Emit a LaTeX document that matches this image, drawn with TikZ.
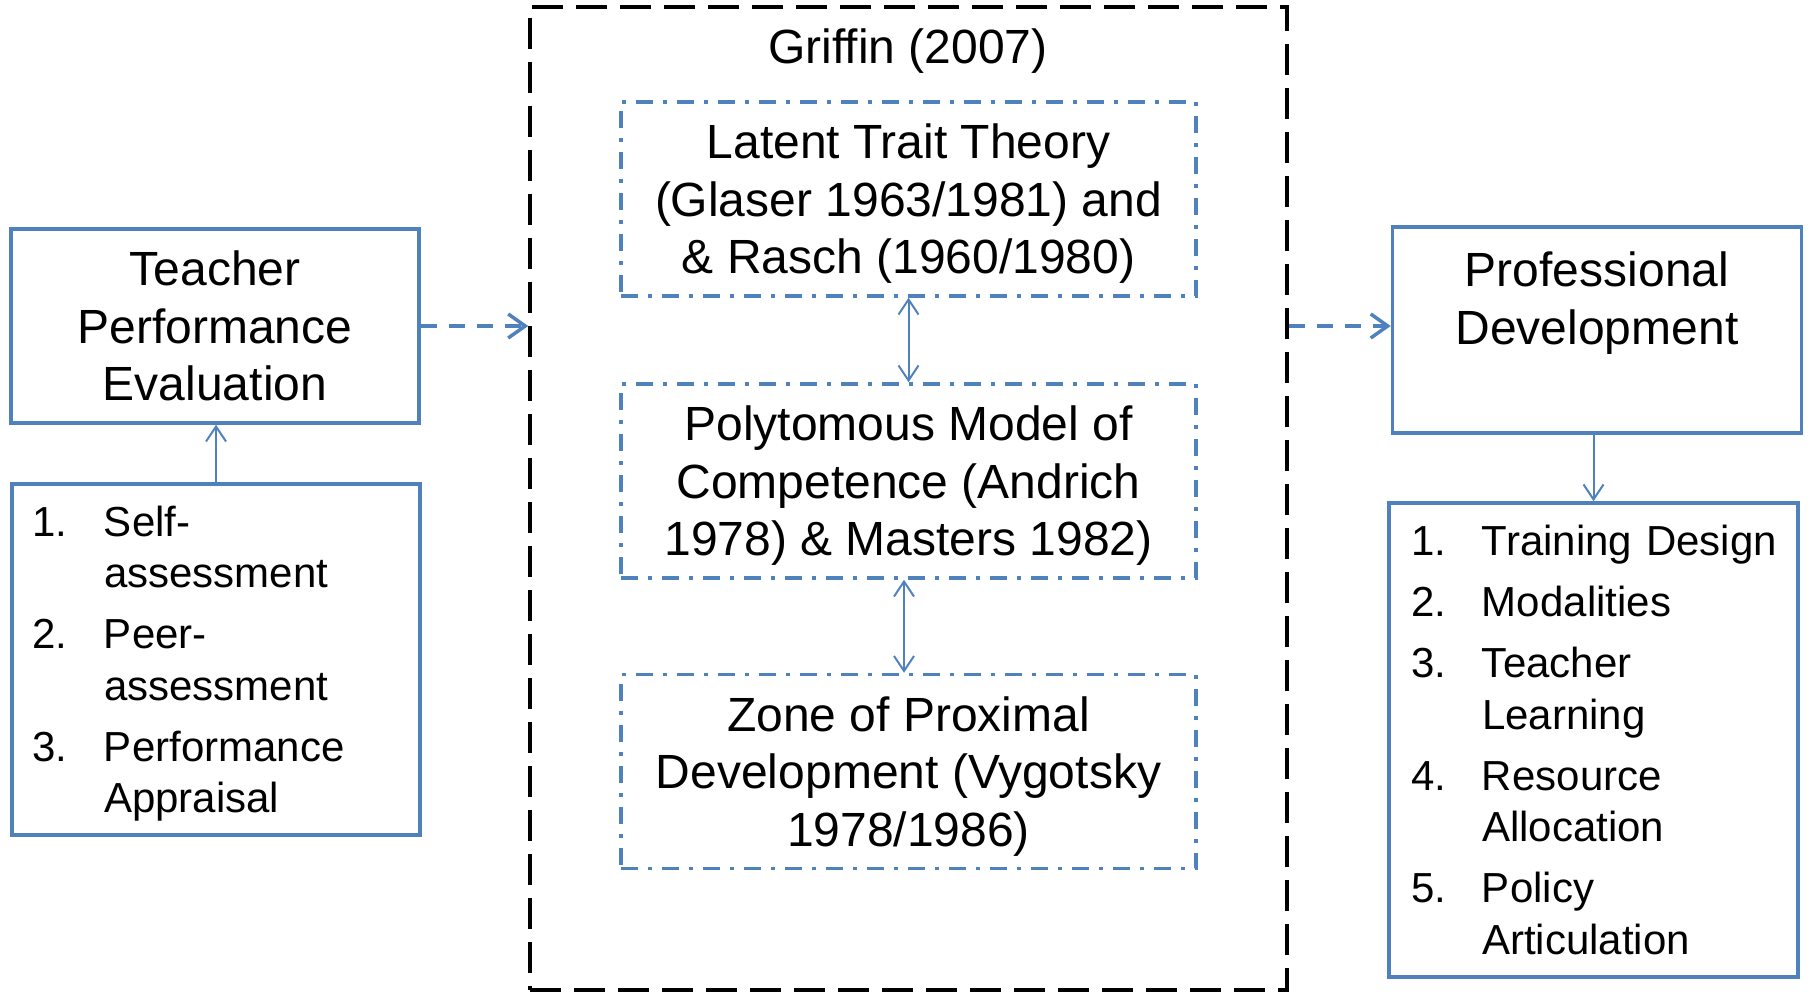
\documentclass[tikz,border=0pt]{standalone}
\usepackage{fontspec}
\setmainfont{Liberation Sans}
\usetikzlibrary{arrows.meta}
\definecolor{ublue}{HTML}{4F81BD}

\begin{document}
\begin{tikzpicture}[x=1pt, y=-1pt,
  bigfont/.style={font=\fontsize{48}{57.5}\selectfont},
  listfont/.style={font=\fontsize{42}{51.5}\selectfont},
  bluebox/.style={draw=ublue, line width=3.5pt, rectangle, inner sep=0pt,
    align=center, bigfont},
  theorybox/.style={draw=ublue, line width=3.5pt,
    dash pattern=on 17pt off 10pt on 4pt off 10pt,
    rectangle, inner sep=0pt, minimum width=575pt, minimum height=194pt,
    text depth=0pt, align=center, bigfont},
  listbox/.style={draw=ublue, line width=3.5pt, rectangle, align=left, listfont},
  outerbox/.style={draw=black, line width=3.5pt, dash pattern=on 31pt off 13pt,
    rectangle, inner sep=0pt, minimum width=757pt, minimum height=983pt},
  flow/.style={draw=ublue, line width=3.5pt, dash pattern=on 16pt off 12pt,
    -{Straight Barb[length=17pt, width=24pt, line width=3.5pt]}},
  link/.style={draw=ublue, line width=2pt,
    -{Straight Barb[length=15pt, width=20pt, line width=2pt]}},
  biglink/.style={draw=ublue, line width=2pt,
    {Straight Barb[length=15pt, width=20pt, line width=2pt]}-{Straight Barb[length=15pt, width=20pt, line width=2pt]}}
]
\useasboundingbox (0,0) rectangle (1810,992);

% framework frame
\node[outerbox] (outer) at (908.5,498.5) {};
\node[bigfont] (griffin) at (908,51) {Griffin (2007)};

% the three theories
\node[theorybox] (latent) at (908.5,199) {Latent Trait Theory\\(Glaser 1963/1981) and\\\& Rasch (1960/1980)};
\node[theorybox] (poly) at (908.5,481) {Polytomous Model of\\Competence (Andrich\\1978) \& Masters 1982)};
\node[theorybox] (zpd) at (908.5,771.5) {Zone of Proximal\\Development (Vygotsky\\1978/1986)};

% left side
\node[bluebox, minimum width=408pt, minimum height=194pt] (tpe) at (215,326)
  {Teacher\\Performance\\Evaluation};
\node[listbox, inner xsep=20pt, inner ysep=0pt, text width=368pt,
  minimum width=408pt, minimum height=351pt] (ltasks) at (216,659.5)
  {\rule{0pt}{39pt}\makebox[72pt][l]{1.}Self-\\\hspace*{72pt}assessment\\[9.5pt]
   \makebox[72pt][l]{2.}Peer-\\\hspace*{72pt}assessment\\[9.5pt]
   \makebox[72pt][l]{3.}Performance\\\hspace*{72pt}Appraisal};

% right side
\node[bluebox, minimum width=409pt, minimum height=206pt, text depth=64pt] (pd) at (1597,330)
  {Professional\\Development};
\node[listbox, inner xsep=22pt, inner ysep=0pt, text width=365pt,
  minimum width=409pt, minimum height=474pt] (rtasks) at (1593.5,740)
  {\mbox{\makebox[71pt][l]{1.}Training Design}\\[9.5pt]
   \makebox[71pt][l]{2.}Modalities\\[9.5pt]
   \makebox[71pt][l]{3.}Teacher\\\hspace*{71pt}Learning\\[9.5pt]
   \makebox[71pt][l]{4.}Resource\\\hspace*{71pt}Allocation\\[9.5pt]
   \makebox[71pt][l]{5.}Policy\\\hspace*{71pt}Articulation};

% connectors
\draw[flow] (tpe.east) -- (tpe.east -| outer.west);
\draw[flow] (tpe.east -| outer.east) -- (tpe.east -| pd.west);
\draw[biglink] (latent.south) -- (poly.north);
\draw[biglink] ([xshift=-4.5pt]poly.south) -- ([xshift=-4.5pt]zpd.north);
\draw[link] (ltasks.north) -- (ltasks.north |- tpe.south);
\draw[link] (pd.south -| rtasks.north) -- (rtasks.north);
\end{tikzpicture}
\end{document}
